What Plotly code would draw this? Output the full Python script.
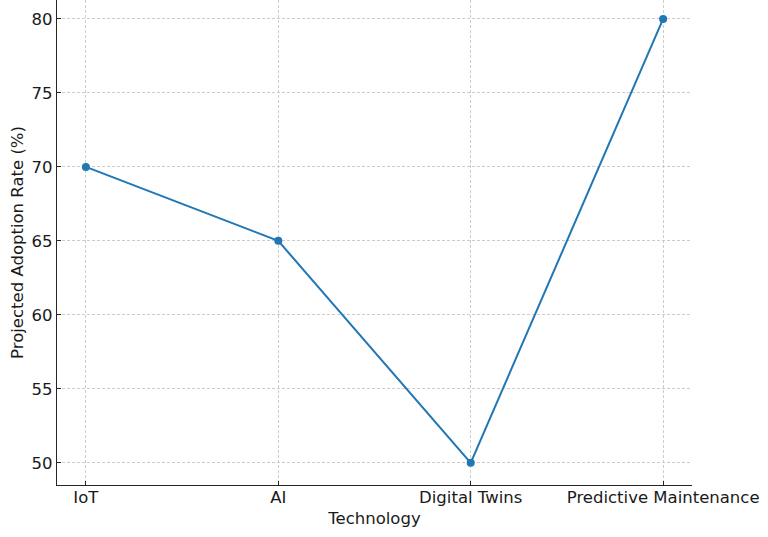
import plotly.graph_objects as go

technologies = ["IoT", "AI", "Digital Twins", "Predictive Maintenance"]
adoption_rates = [70, 65, 50, 80]
y_ticks = [50, 55, 60, 65, 70, 75, 80]

fig = go.Figure()
fig.add_trace(go.Scatter(
    x=list(range(len(technologies))),
    y=adoption_rates,
    mode="lines+markers",
    line=dict(color="#1f77b4", width=2),
    marker=dict(color="#1f77b4", size=8),
    cliponaxis=False,
    hoverinfo="skip",
))

font = dict(family="DejaVu Sans", size=16.5, color="#1a1a1a")
fig.update_layout(
    width=768, height=537,
    margin=dict(l=57, r=76, t=0, b=52, autoexpand=False),
    plot_bgcolor="white", paper_bgcolor="white",
    showlegend=False,
    hovermode=False,
    font=font,
)
fig.update_xaxes(
    range=[-0.15, 3.15],
    tickmode="array",
    tickvals=list(range(len(technologies))),
    ticktext=technologies,
    showline=True, linecolor="#262626", linewidth=1.3,
    ticks="inside", ticklen=4, tickcolor="#262626",
    ticklabelstandoff=-3,
    showgrid=True, gridcolor="#cccccc", griddash="3px,2px", gridwidth=1,
    zeroline=False, automargin=False,
    title=dict(text="Technology", font=font, standoff=6),
    tickfont=font,
)
fig.update_yaxes(
    range=[48.5, 81.28],
    tickmode="array",
    tickvals=y_ticks,
    showline=True, linecolor="#262626", linewidth=1.3,
    ticks="inside", ticklen=4, tickcolor="#262626",
    showgrid=True, gridcolor="#cccccc", griddash="3px,2px", gridwidth=1,
    zeroline=False, automargin=False,
    title=dict(text="Projected Adoption Rate (%)", font=font, standoff=3),
    tickfont=font,
)
fig.write_html(
    "out.html",
    config={"displayModeBar": False, "staticPlot": True},
    post_script="document.body.style.margin='0';document.body.style.overflow='hidden';",
)
